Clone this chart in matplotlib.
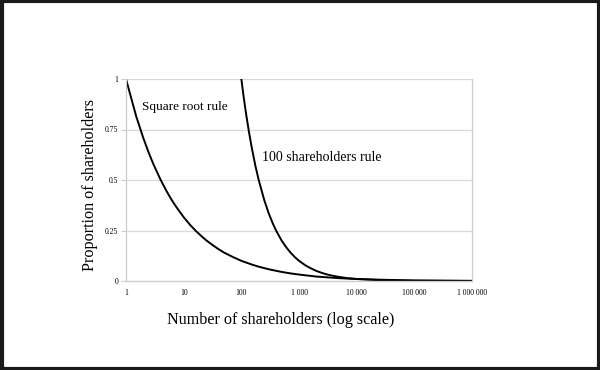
import matplotlib
matplotlib.use('Agg')
import matplotlib.pyplot as plt
from matplotlib.patches import Rectangle

plt.rcParams['font.family'] = ['Liberation Serif', 'DejaVu Serif']

# Square root rule: proportion
sqrt_n = [1, 1.5, 2, 2.5, 3, 4, 5, 6, 7, 8, 10, 13, 16, 20, 25, 30, 40, 50, 70, 100, 150, 200,
          300, 500, 700, 1000, 2000, 5000, 10000, 30000, 100000, 1000000]
sqrt_p = [1, 0.816, 0.707, 0.632, 0.577, 0.5, 0.447, 0.408, 0.378, 0.354, 0.316, 0.277, 0.25,
          0.224, 0.2, 0.183, 0.158, 0.141, 0.12, 0.1, 0.082, 0.071, 0.058, 0.045, 0.038, 0.032,
          0.022, 0.014, 0.01, 0.006, 0.003, 0.001]

# 100 shareholders rule
rule_n = [100, 110, 120, 135, 150, 175, 200, 250, 300, 350, 400, 500, 600, 700, 850, 1000, 1300,
          1600, 2000, 2500, 3000, 4000, 5000, 7000, 10000, 30000, 100000, 1000000]
rule_p = [1, 0.909, 0.833, 0.741, 0.667, 0.571, 0.5, 0.4, 0.333, 0.286, 0.25, 0.2, 0.167, 0.143,
          0.118, 0.1, 0.077, 0.063, 0.05, 0.04, 0.033, 0.025, 0.02, 0.014, 0.01, 0.003, 0.001,
          0.0001]

x_ticks = [1, 10, 100, 1000, 10000, 100000, 1000000]
x_labels = ['1', '10', '100', '1 000', '10 000', '100 000', '1 000 000']
y_ticks = [0, 0.25, 0.5, 0.75, 1]
y_labels = ['0', '0.25', '0.5', '0.75', '1']

fig = plt.figure(figsize=(6, 3.7), dpi=100)
ax = fig.add_axes([0.21, 0.2405, 0.5767, 0.546])

ax.plot(sqrt_n, sqrt_p, color='black', lw=1.4)
ax.plot(rule_n, rule_p, color='black', lw=1.4)

ax.set_xscale('log')
ax.set_xlim(1, 1000000)
ax.set_ylim(0, 1)
ax.set_xticks(x_ticks)
ax.set_xticklabels(x_labels)
ax.minorticks_off()
ax.set_yticks(y_ticks)
ax.set_yticklabels(y_labels)
ax.tick_params(axis='x', length=0, pad=6, labelsize=5.5)
ax.tick_params(axis='y', length=3.5, width=0.8, color='#cccccc', pad=2, labelsize=5.5)
ax.grid(axis='y', color='#d9d9d9', lw=0.9)
ax.set_axisbelow(True)
ax.spines['top'].set_visible(False)
for s in ['left', 'right', 'bottom']:
    ax.spines[s].set_color('#cccccc')
    ax.spines[s].set_linewidth(0.9)

ax.text(1.9, 0.86, 'Square root rule', fontsize=9.5, va='center')
ax.text(229, 0.61, '100 shareholders rule', fontsize=10, va='center')

fig.text(0.467, 0.135, 'Number of shareholders (log scale)', fontsize=11.6, ha='center', va='center')
fig.text(0.15, 0.5, 'Proportion of shareholders', fontsize=11.6, rotation=90, ha='center', va='center')

# black frame around the whole picture
fig.patches.append(Rectangle((0.0025, 0.004), 0.995, 0.992, transform=fig.transFigure,
                             fill=False, edgecolor='#1a1a1a', lw=3))

fig.savefig('out.png', dpi=100)
